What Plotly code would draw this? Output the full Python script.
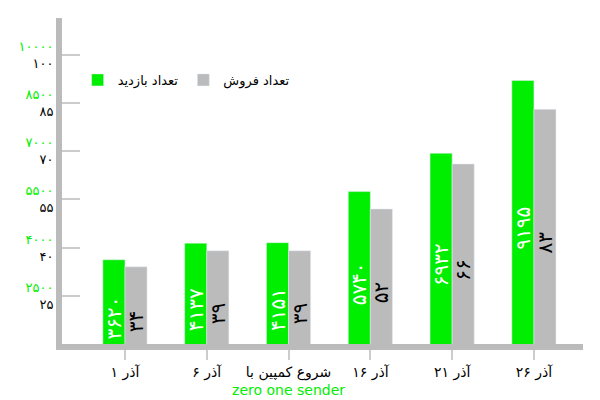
import plotly.graph_objects as go

fa = str.maketrans('0123456789', '۰۱۲۳۴۵۶۷۸۹')

days = ['آذر ۱', 'آذر ۶',
        "شروع کمپین با<br><span style='color:#00ee00'>zero one sender</span>",
        'آذر ۱۶', 'آذر ۲۱', 'آذر ۲۶']
visits = [3620, 4137, 4151, 5740, 6932, 9195]
sales = [34, 39, 39, 52, 66, 83]
tick_visits = [2500, 4000, 5500, 7000, 8500, 10000]
tick_sales = [25, 40, 55, 70, 85, 100]

x = list(range(len(days)))
fig = go.Figure()
fig.add_bar(x=x, y=visits, name='تعداد بازدید', marker_color='#00ee00',
            text=[str(v).translate(fa) for v in visits], textangle=-90,
            textposition='inside', insidetextanchor='middle', constraintext='none',
            textfont=dict(color='white', size=20))
fig.add_bar(x=x, y=[s * 100 for s in sales], name='تعداد فروش', marker_color='#bbbbbb',
            text=[str(v).translate(fa) for v in sales], textangle=-90,
            textposition='inside', insidetextanchor='middle', constraintext='none',
            textfont=dict(color='black', size=20))

fig.update_layout(
    width=600, height=400, barmode='group', bargap=0.46, bargroupgap=0,
    margin=dict(l=50, r=25, t=10, b=52),
    plot_bgcolor='white', paper_bgcolor='white',
    font=dict(family='DejaVu Sans', size=12, color='black'),
    legend=dict(orientation='h', x=0.03, y=0.81, xanchor='left', yanchor='middle',
                font=dict(size=13), itemwidth=30, traceorder='normal'),
    xaxis=dict(tickvals=x, ticktext=days, range=[-0.77, 5.6], showgrid=False,
               showline=True, linecolor='#bbbbbb', linewidth=6,
               ticks='outside', ticklen=10, tickcolor='#cccccc', tickwidth=2,
               tickfont=dict(size=14)),
    yaxis=dict(range=[1000, 11140], tickvals=tick_visits,
               ticktext=["<span style='color:#00ee00'>%s</span><br>%s" % (str(a).translate(fa), str(b).translate(fa))
                         for a, b in zip(tick_visits, tick_sales)],
               showgrid=False, zeroline=False, showline=True, linecolor='#bbbbbb', linewidth=6,
               ticks='inside', ticklen=18, tickcolor='#cccccc', tickwidth=2,
               tickfont=dict(size=13)),
)
fig.write_html("out.html")
